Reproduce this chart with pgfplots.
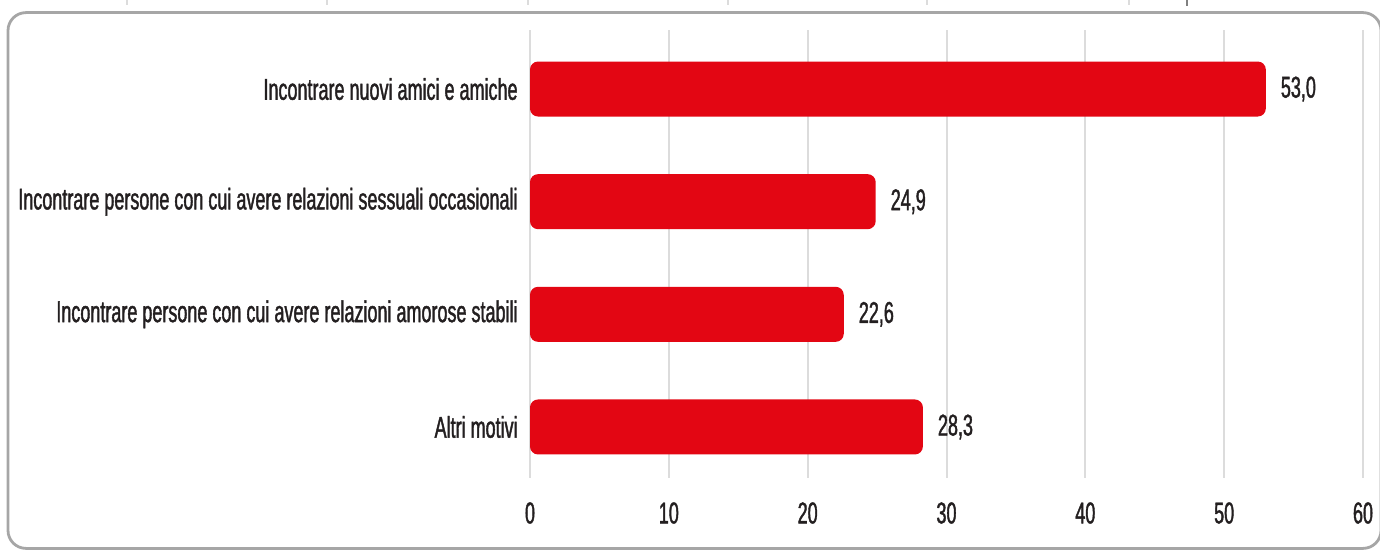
\documentclass[border=0pt]{standalone}
\usepackage{fontspec}
\setmainfont{Liberation Sans}[FakeStretch=0.6, FakeBold=1.3]
\usepackage{pgfplots}
\usepackage{pgfplotstable}
\pgfplotsset{compat=1.18}
\definecolor{barred}{HTML}{E30613}
\definecolor{textc}{HTML}{231F20}
\definecolor{gridc}{HTML}{DCDCDC}
\definecolor{framec}{HTML}{A6A6A6}
\pgfplotstableread{
y v
0 53.0
1 24.9
2 22.6
3 28.3
}\datatable
\begin{document}
\begin{tikzpicture}
\useasboundingbox (0pt,0pt) rectangle (690pt,-275pt);
% stray marks from above
\foreach \xx in {127,327,528,728,927,1129}{\draw[gridc, line width=1pt] (\xx*0.5pt,0pt) -- (\xx*0.5pt,-2.5pt);}
\draw[gray, line width=1.2pt] (1187*0.5pt,0pt) -- (1187*0.5pt,-3pt);
% frame
\draw[framec, line width=1.4pt, rounded corners=9pt] (4pt,-274.2pt) rectangle (690.5pt,-6.3pt);
\begin{axis}[
  at={(265pt,-15pt)}, anchor=north west,
  scale only axis, width=416.5pt, height=224pt,
  xmin=0, xmax=60, ymin=-0.524, ymax=3.453, y dir=reverse,
  xtick={0,10,20,30,40,50,60}, ytick={0,1,2,3},
  yticklabels={Incontrare nuovi amici e amiche,Incontrare persone con cui avere relazioni sessuali occasionali,Incontrare persone con cui avere relazioni amorose stabili,Altri motivi~},
  axis line style={draw=none},
  major tick length=0pt,
  xmajorgrids, grid style={draw=gridc, line width=1pt},
  tick label style={font=\fontsize{15}{18}\selectfont, text=textc},
  xticklabel style={inner sep=0pt, yshift=-12pt},
  yticklabel style={inner sep=0pt, xshift=-6pt},
  /pgf/number format/assume math mode=true,
  xbar, bar width=27.5pt,
  nodes near coords,
  every node near coord/.append style={anchor=west, xshift=4pt, font=\fontsize{15}{18}\selectfont, text=textc},
  nodes near coords={\pgfmathprintnumber[fixed, fixed zerofill, precision=1, use comma, assume math mode=true]{\pgfplotspointmeta}},
  clip=false,
]
\addplot[fill=barred, draw=none, rounded corners=4pt] table[x=v,y=y]{\datatable};
\end{axis}
\end{tikzpicture}
\end{document}
